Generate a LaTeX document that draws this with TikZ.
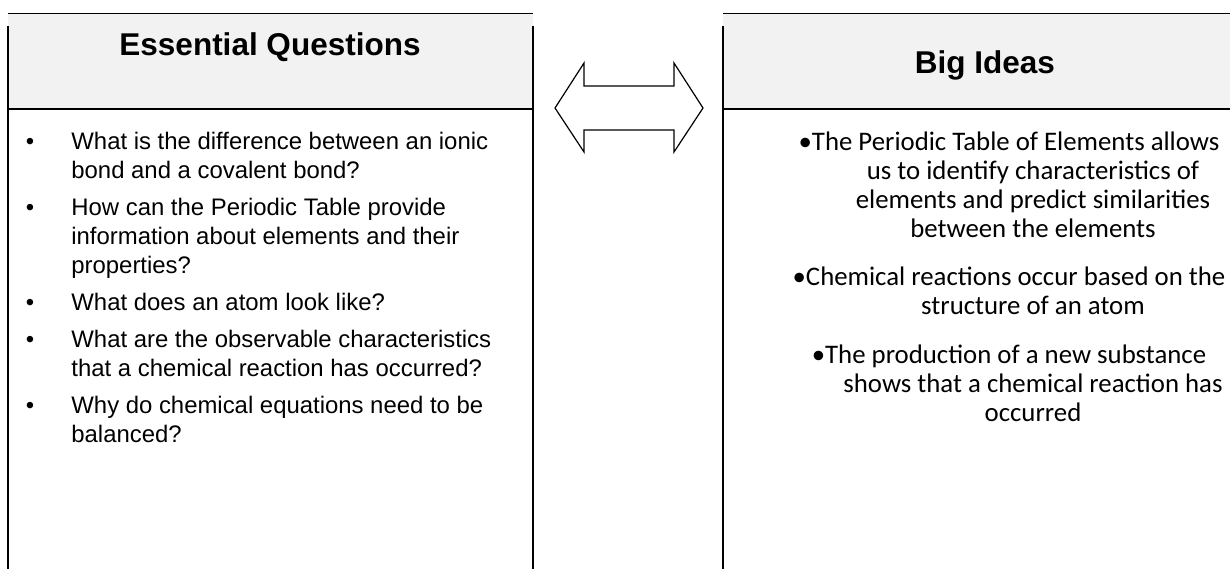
\documentclass[tikz,border=0pt]{standalone}
\usepackage{fontspec}
\setmainfont{Liberation Sans}
\newfontfamily\calibri{Carlito}
\definecolor{hdrgray}{RGB}{242,242,242}

\begin{document}
\begin{tikzpicture}[x=0.5pt,y=-0.5pt,
	hdr/.style={anchor=base,inner sep=0pt,font=\fontsize{15.75}{18}\selectfont\bfseries},
	question/.style={anchor=north west,inner sep=0pt,align=left,font=\fontsize{11.95}{14.5}\selectfont},
	qdot/.style={anchor=base,inner sep=0pt,font=\fontsize{11.95}{14.5}\selectfont},
	idea/.style={anchor=north,inner sep=0pt,align=center,font=\calibri\fontsize{13.4}{14.5}\selectfont}]
\useasboundingbox (0,0) rectangle (1230,569);

% header fills
\fill[hdrgray] (8,13.5) rectangle (533,109);
\fill[hdrgray] (723,13.5) rectangle (1230,109);

% box edges
\draw[line width=0.5pt] (8,13.5) -- (533,13.5);
\draw[line width=0.5pt] (723,13.5) -- (1230,13.5);
\foreach \x in {8, 533, 723}
{
	\draw[line width=0.85pt] (\x,26) -- (\x,569);
}
\draw[line width=1pt] (8,109) -- (533,109);
\draw[line width=1pt] (723,109) -- (1230,109);

% double arrow
\draw[line width=0.6pt,line join=miter] (555,108) -- (584,63) -- (584,86) -- (674,86) -- (674,63)
	-- (703,108) -- (674,152) -- (674,130) -- (584,130) -- (584,152) -- cycle;

\path (270,55) node[hdr] (eq) {Essential Questions};
\path (985,73) node[hdr] (bi) {Big Ideas};

\foreach \y in {149, 215, 310, 347, 413}
{
	\path (30,\y) node[qdot] (dot\y) {\textbullet};
}
\path (71,128.7) node[question] (q1) {\strut What is the difference between an ionic\\bond and a covalent bond?};
\path (71,194.7) node[question] (q2) {\strut How can the Periodic Table provide\\information about elements and their\\properties?};
\path (71,289.7) node[question] (q3) {\strut What does an atom look like?};
\path (71,326.7) node[question] (q4) {\strut What are the observable characteristics\\that a chemical reaction has occurred?};
\path (71,392.7) node[question] (q5) {\strut Why do chemical equations need to be\\balanced?};

\path (1033,129.7) node[idea] (i1) {\strut\textbullet The Periodic Table of Elements allows\hspace*{24pt}\\us to identify characteristics of\\elements and predict similarities\\between the elements};
\path (1033,264.7) node[idea] (i2) {\strut\textbullet Chemical reactions occur based on the\hspace*{24pt}\\structure of an atom};
\path (1033,342.7) node[idea] (i3) {\strut\textbullet The production of a new substance\hspace*{24pt}\\shows that a chemical reaction has\\occurred};

\end{tikzpicture}
\end{document}
